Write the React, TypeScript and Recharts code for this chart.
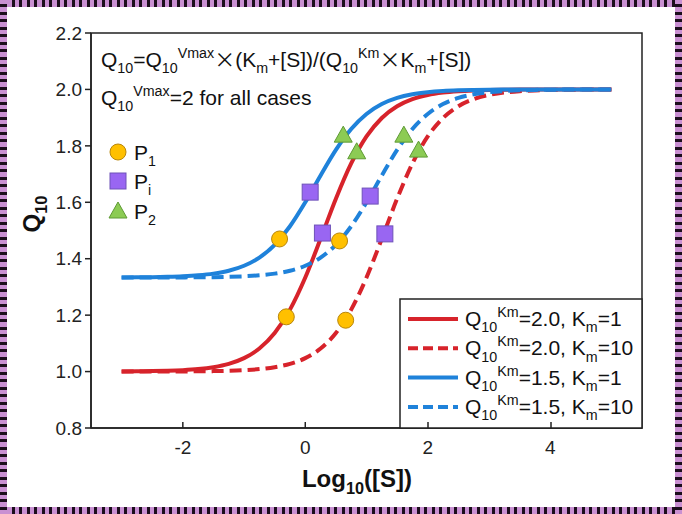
import React from 'react';
import { ComposedChart, Line, Scatter, XAxis, YAxis, ReferenceArea } from 'recharts';

const logS = [-3, -2.75, -2.5, -2.25, -2, -1.75, -1.5, -1.25, -1, -0.75, -0.5, -0.25, 0, 0.25, 0.5, 0.75, 1, 1.25, 1.5, 1.75, 2, 2.25, 2.5, 2.75, 3, 3.25, 3.5, 3.75, 4, 4.25, 4.5, 4.75, 5];
const red2Km1 = [1.0005, 1.0009, 1.0016, 1.0028, 1.005, 1.0088, 1.0156, 1.0273, 1.0476, 1.0816, 1.1365, 1.2195, 1.3333, 1.4706, 1.6126, 1.7376, 1.8333, 1.8989, 1.9405, 1.9657, 1.9804, 1.9889, 1.9937, 1.9964, 1.998, 1.9989, 1.9994, 1.9996, 1.9998, 1.9999, 1.9999, 2.0, 2.0];
const red2Km10 = [1.0, 1.0001, 1.0002, 1.0003, 1.0005, 1.0009, 1.0016, 1.0028, 1.005, 1.0088, 1.0156, 1.0273, 1.0476, 1.0816, 1.1365, 1.2195, 1.3333, 1.4706, 1.6126, 1.7376, 1.8333, 1.8989, 1.9405, 1.9657, 1.9804, 1.9889, 1.9937, 1.9964, 1.998, 1.9989, 1.9994, 1.9996, 1.9998];
const blue15Km1 = [1.3338, 1.3341, 1.3347, 1.3358, 1.3377, 1.3411, 1.3471, 1.3574, 1.375, 1.404, 1.4494, 1.5151, 1.6, 1.6949, 1.7855, 1.8596, 1.913, 1.9481, 1.9698, 1.9827, 1.9901, 1.9944, 1.9968, 1.9982, 1.999, 1.9994, 1.9997, 1.9998, 1.9999, 2.0, 2.0, 2.0, 2.0];
const blue15Km10 = [1.3334, 1.3334, 1.3335, 1.3336, 1.3338, 1.3341, 1.3347, 1.3358, 1.3377, 1.3411, 1.3471, 1.3574, 1.375, 1.404, 1.4494, 1.5151, 1.6, 1.6949, 1.7855, 1.8596, 1.913, 1.9481, 1.9698, 1.9827, 1.9901, 1.9944, 1.9968, 1.9982, 1.999, 1.9994, 1.9997, 1.9998, 1.9999];

const p1X = [-0.42, -0.31, 0.56, 0.66];
const p1Y = [1.47, 1.194, 1.463, 1.182];
const piX = [0.08, 0.28, 1.06, 1.3];
const piY = [1.636, 1.491, 1.622, 1.488];
const p2X = [0.62, 0.84, 1.61, 1.85];
const p2Y = [1.838, 1.779, 1.838, 1.785];

const xTicks = [-2, 0, 2, 4];
const yTicks = [0.8, 1.0, 1.2, 1.4, 1.6, 1.8, 2.0, 2.2];

const RED = '#D7232B';
const BLUE = '#1F82DA';
const FONT = '"Liberation Sans", Arial, sans-serif';
const CJK = '"Noto Sans CJK SC", sans-serif';

const lineData = logS.map((x, i) => ({ x, r1: red2Km1[i], r10: red2Km10[i], b1: blue15Km1[i], b10: blue15Km10[i] }));
const p1Data = p1X.map((x, i) => ({ x, y: p1Y[i] }));
const piData = piX.map((x, i) => ({ x, y: piY[i] }));
const p2Data = p2X.map((x, i) => ({ x, y: p2Y[i] }));

type Seg = { t: string; sub?: boolean; sup?: boolean; cjk?: boolean };

function Rich({ x, y, segs, size, weight = 'normal', anchor = 'start', transform }: { x: number; y: number; segs: Seg[]; size: number; weight?: string; anchor?: string; transform?: string }) {
  let cur = 0;
  const small = size * 0.68;
  return (
    <text x={x} y={y} fontSize={size} fontWeight={weight} fontFamily={FONT} fill="#111" textAnchor={anchor as any} transform={transform}>
      {segs.map((s, i) => {
        const target = s.sup ? -size * 0.42 : s.sub ? size * 0.3 : 0;
        const dy = target - cur;
        cur = target;
        return (
          <tspan key={i} dy={dy} fontSize={s.sup || s.sub ? small : size} fontFamily={s.cjk ? CJK : undefined}>
            {s.t}
          </tspan>
        );
      })}
    </text>
  );
}

const Circle = (p: any) => <circle cx={p.cx} cy={p.cy} r={8} fill="#FFC000" stroke="#B8860B" strokeWidth={1} />;
const Square = (p: any) => <rect x={p.cx - 8} y={p.cy - 8} width={16} height={16} fill="#9966F2" stroke="#6E52B8" strokeWidth={1} />;
const Tri = (p: any) => (
  <polygon points={`${p.cx},${p.cy - 9} ${p.cx - 9},${p.cy + 7} ${p.cx + 9},${p.cy + 7}`} fill="#8CCB54" stroke="#5E9A34" strokeWidth={1} />
);

const XTick = (p: any) => (
  <g>
    <line x1={p.x} y1={p.y} x2={p.x} y2={p.y - 6} stroke="#222" strokeWidth={1.5} />
    <text x={p.x} y={p.y + 26} textAnchor="middle" fontSize={19} fontFamily={FONT} fill="#222">
      {p.payload.value}
    </text>
  </g>
);

function stripe(dir: string) {
  return `repeating-linear-gradient(${dir}, #C990D2 0px, #C990D2 4.5px, #1B0E1C 4.5px, #1B0E1C 7.5px)`;
}

const legendRows = [
  { color: RED, dash: false, a: '2.0', k: '1' },
  { color: RED, dash: true, a: '2.0', k: '10' },
  { color: BLUE, dash: false, a: '1.5', k: '1' },
  { color: BLUE, dash: true, a: '1.5', k: '10' },
];

export default function App() {
  return (
    <div style={{ position: 'absolute', left: 0, top: 0, width: 682, height: 514, background: '#fff', overflow: 'hidden' }}>
      <ComposedChart width={682} height={514} data={lineData} margin={{ top: 33, right: 40, bottom: 56, left: 31 }}>
        <XAxis
          dataKey="x"
          type="number"
          domain={[-3.5, 5.5]}
          ticks={xTicks}
          tickSize={0}
          tickMargin={0}
          height={30}
          tick={<XTick />}
          axisLine={{ stroke: '#222', strokeWidth: 1.5 }}
          tickLine={false}
          allowDataOverflow
        />
        <YAxis
          type="number"
          domain={[0.8, 2.2]}
          ticks={yTicks}
          width={60}
          tickSize={6}
          tickMargin={3}
          tickFormatter={(v: number) => v.toFixed(1)}
          tick={{ fontSize: 19, fill: '#222', fontFamily: FONT }}
          axisLine={{ stroke: '#222', strokeWidth: 1.5 }}
          tickLine={{ stroke: '#222', strokeWidth: 1.5 }}
          allowDataOverflow
        />
        <ReferenceArea x1={-3.5} x2={5.5} y1={0.8} y2={2.2} fill="none" stroke="#222" strokeWidth={1.5} />
        <Line dataKey="r1" stroke={RED} strokeWidth={4} dot={false} type="monotone" isAnimationActive={false} />
        <Line dataKey="r10" stroke={RED} strokeWidth={4} strokeDasharray="12 6" dot={false} type="monotone" isAnimationActive={false} />
        <Line dataKey="b1" stroke={BLUE} strokeWidth={4} dot={false} type="monotone" isAnimationActive={false} />
        <Line dataKey="b10" stroke={BLUE} strokeWidth={4} strokeDasharray="12 6" dot={false} type="monotone" isAnimationActive={false} />
        <Scatter data={p1Data} dataKey="y" shape={Circle} isAnimationActive={false} />
        <Scatter data={piData} dataKey="y" shape={Square} isAnimationActive={false} />
        <Scatter data={p2Data} dataKey="y" shape={Tri} isAnimationActive={false} />
      </ComposedChart>

      <svg width={682} height={514} style={{ position: 'absolute', left: 0, top: 0, pointerEvents: 'none' }}>
        <Rich
          x={101}
          y={67}
          size={21}
          segs={[
            { t: 'Q' }, { t: '10', sub: true }, { t: '=Q' }, { t: '10', sub: true }, { t: 'Vmax', sup: true },
            { t: '×', cjk: true }, { t: '(K' }, { t: 'm', sub: true }, { t: '+[S])/(Q' }, { t: '10', sub: true }, { t: 'Km', sup: true },
            { t: '×', cjk: true }, { t: 'K' }, { t: 'm', sub: true }, { t: '+[S])' },
          ]}
        />
        <Rich x={101} y={105} size={21} segs={[{ t: 'Q' }, { t: '10', sub: true }, { t: 'Vmax', sup: true }, { t: '=2  for  all  cases' }]} />

        <circle cx={118} cy={152} r={8} fill="#FFC000" stroke="#B8860B" strokeWidth={1} />
        <Rich x={134} y={160} size={21} segs={[{ t: 'P' }, { t: '1', sub: true }]} />
        <rect x={110} y={173} width={16} height={16} fill="#9966F2" stroke="#6E52B8" strokeWidth={1} />
        <Rich x={134} y={189} size={21} segs={[{ t: 'P' }, { t: 'i', sub: true }]} />
        <polygon points="118,202 109,218 127,218" fill="#8CCB54" stroke="#5E9A34" strokeWidth={1} />
        <Rich x={134} y={219} size={21} segs={[{ t: 'P' }, { t: '2', sub: true }]} />

        <rect x={400} y={299} width={242} height={129} fill="#fff" stroke="#222" strokeWidth={1.5} />
        {legendRows.map((r, i) => {
          const cy = 319 + i * 29.3;
          return (
            <g key={i}>
              <line x1={408} x2={458} y1={cy} y2={cy} stroke={r.color} strokeWidth={4} strokeDasharray={r.dash ? '10 5' : undefined} />
              <Rich
                x={465}
                y={cy + 7}
                size={21}
                segs={[{ t: 'Q' }, { t: '10', sub: true }, { t: 'Km', sup: true }, { t: `=${r.a}, K` }, { t: 'm', sub: true }, { t: `=${r.k}` }]}
              />
            </g>
          );
        })}
        <line x1={428} x2={428} y1={428} y2={422} stroke="#222" strokeWidth={1.5} />
        <line x1={551} x2={551} y1={428} y2={422} stroke="#222" strokeWidth={1.5} />

        <Rich x={357} y={487} size={24} weight="bold" anchor="middle" segs={[{ t: 'Log' }, { t: '10', sub: true }, { t: '([S])' }]} />
        <Rich x={40} y={214} size={24} weight="bold" anchor="middle" transform="rotate(-90 40 214)" segs={[{ t: 'Q' }, { t: '10', sub: true }]} />
      </svg>

      <div style={{ position: 'absolute', left: 0, top: 0, width: 682, height: 7, background: stripe('90deg') }} />
      <div style={{ position: 'absolute', left: 0, bottom: 0, width: 682, height: 7, background: stripe('90deg') }} />
      <div style={{ position: 'absolute', left: 0, top: 0, width: 7, height: 514, background: stripe('180deg') }} />
      <div style={{ position: 'absolute', right: 0, top: 0, width: 7, height: 514, background: stripe('180deg') }} />
    </div>
  );
}
